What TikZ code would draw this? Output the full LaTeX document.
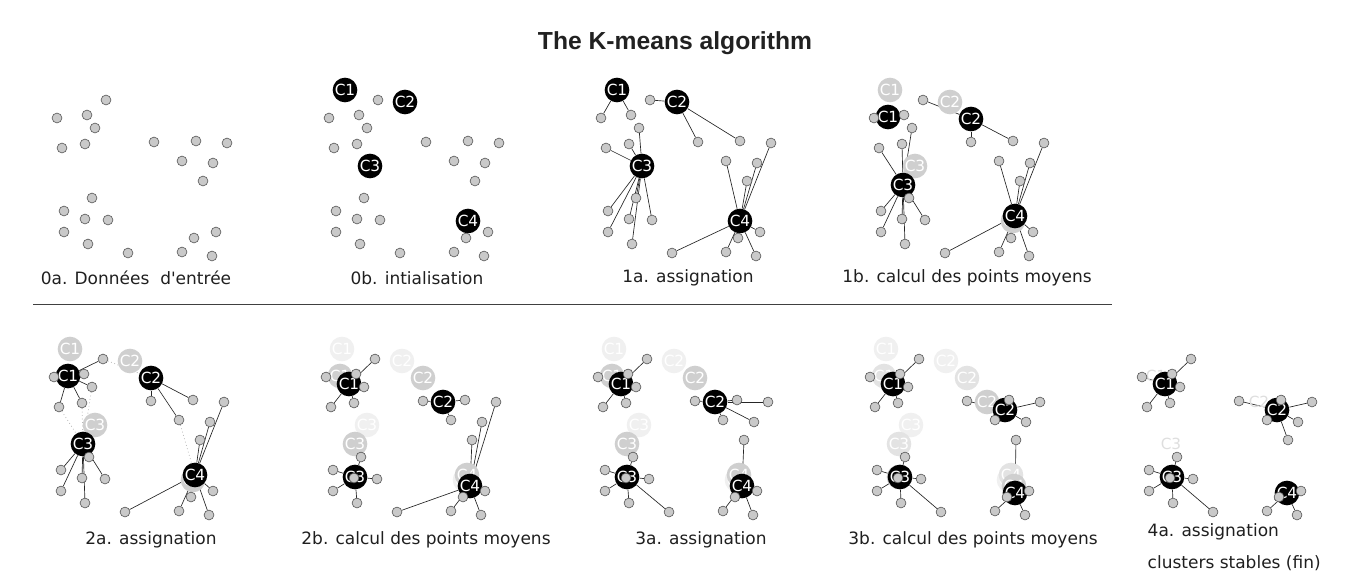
\documentclass[tikz,border=0pt]{standalone}
\usepackage{fontspec}
\newfontfamily\dejavu{DejaVu Sans}
\newfontfamily\titlefont{Liberation Sans}
\usetikzlibrary{positioning}
\pgfdeclarelayer{background}
\pgfsetlayers{background,main}

% data points (pixel units, panel 0a)
\def\pointlist{P1/106/100,P2/57/118,P3/87/115,P4/95/128,P5/62/148,P6/85/144,%
Q1/154/142,Q2/196/141,Q3/227/143,Q4/182/161,Q5/213/163,Q6/203/181,%
R1/92/198,R2/64/211,R3/85/219,R4/108/220,R5/64/232,R6/88/244,R7/128/253,%
S1/182/252,S2/194/238,S3/216/232,S4/212/256}
% centre positions after each update
\def\posO{C1/73/90,C2/133/102,C3/98/166,C4/196/221}
\def\posI{C1/71/117,C2/154/119,C3/86/185,C4/198/216}
\def\posII{C1/80/125,C2/174/143,C3/86/218,C4/201/227}
\def\posIII{C1/80/125,C2/192/151,C3/87/218,C4/202/234}
% assignments
\def\assignI{P1/C2,P2/C1,P3/C1,P4/C3,P5/C3,P6/C3,Q1/C2,Q2/C2,Q3/C4,Q4/C4,Q5/C4,Q6/C4,%
R1/C3,R2/C3,R3/C3,R4/C3,R5/C3,R6/C3,R7/C4,S1/C4,S2/C4,S3/C4,S4/C4}
\def\assignII{P1/C1,P2/C1,P3/C1,P4/C1,P5/C1,P6/C1,Q1/C2,Q2/C2,Q3/C4,Q4/C2,Q5/C4,Q6/C4,%
R1/C3,R2/C3,R3/C3,R4/C3,R5/C3,R6/C3,R7/C4,S1/C4,S2/C4,S3/C4,S4/C4}
\def\movedII{P1/C2,P4/C3,P5/C3,P6/C3,Q4/C4}
\def\assignIII{P1/C1,P2/C1,P3/C1,P4/C1,P5/C1,P6/C1,Q1/C2,Q2/C2,Q3/C2,Q4/C2,Q5/C2,Q6/C4,%
R1/C3,R2/C3,R3/C3,R4/C3,R5/C3,R6/C3,R7/C3,S1/C4,S2/C4,S3/C4,S4/C4}
\def\assignIV{P1/C1,P2/C1,P3/C1,P4/C1,P5/C1,P6/C1,Q1/C2,Q2/C2,Q3/C2,Q4/C2,Q5/C2,Q6/C2,%
R1/C3,R2/C3,R3/C3,R4/C3,R5/C3,R6/C3,R7/C3,S1/C4,S2/C4,S3/C4,S4/C4}

\begin{document}
\begin{tikzpicture}[x=0.75pt, y=-0.75pt]
        \tikzset{
            pt/.style={draw=black!68, fill=black!21, circle, inner sep=0pt, minimum size=7.4pt, line width=0.45pt},
            ctr/.style={fill=black, circle, inner sep=0pt, minimum size=18.5pt, text=white, font=\dejavu\fontsize{11.5}{13}\selectfont},
            ghostA/.style={ctr, fill=black!19},
            ghostB/.style={ctr, fill=black!11},
            ghostC/.style={ctr, fill=black!6},
            ghostT/.style={circle, inner sep=0pt, minimum size=18.5pt, text=black!13, font=\dejavu\fontsize{11.5}{13}\selectfont},
            link/.style={draw=black!85, line width=0.5pt},
            oldlink/.style={draw=black!28, dotted, line width=0.6pt},
            caption/.style={text=black!88, font=\dejavu\fontsize{12.75}{15}\selectfont}
        }
        \useasboundingbox (0,0) rectangle (1349,579);

        % Title and separator
        \node [font=\titlefont\bfseries\fontsize{18.5}{21}\selectfont, text=black!87] (title) at (675,43) {The K-means algorithm};
        \coordinate (ruleL) at (33,304);
        \coordinate (ruleR) at (1112,304);
        \draw [black!75, line width=0.6pt] (ruleL) -- (ruleR);

        % 0a. input data
        \begin{scope}
            \foreach \n/\x/\y in \pointlist \node [pt] (0a-\n) at (\x,\y) {};
        \end{scope}
        \node [caption] (cap0a) at (136,278) {0a. Données\ \ d'entrée};

        % 0b. initialisation
        \begin{scope}[shift={(272,0)}]
            \foreach \n/\x/\y in \posO \node [ctr] (0b-\n) at (\x,\y) {\n};
            \foreach \n/\x/\y in \pointlist \node [pt] (0b-\n) at (\x,\y) {};
        \end{scope}
        \node [caption] (cap0b) at (417,278) {0b. intialisation};

        % 1a. assignment
        \begin{scope}[shift={(544,0)}]
            \foreach \n/\x/\y in \posO \node [ctr] (1a-\n) at (\x,\y) {\n};
            \foreach \n/\x/\y in \pointlist \node [pt] (1a-\n) at (\x,\y) {};
        \end{scope}
        \begin{pgfonlayer}{background}
            \foreach \p/\c in \assignI \draw [link] (1a-\p) -- (1a-\c);
        \end{pgfonlayer}
        \node [caption] (cap1a) at (688,278) {1a. assignation};

        % 1b. means
        \begin{scope}[shift={(817,0)}]
            \foreach \n/\x/\y in \posO \node [ghostA] (1b-g0-\n) at (\x,\y) {\n};
            \foreach \n/\x/\y in \posI \node [ctr] (1b-\n) at (\x,\y) {\n};
            \foreach \n/\x/\y in \pointlist \node [pt] (1b-\n) at (\x,\y) {};
        \end{scope}
        \begin{pgfonlayer}{background}
            \foreach \p/\c in \assignI \draw [link] (1b-\p) -- (1b-\c);
        \end{pgfonlayer}
        \node [caption] (cap1b) at (967,278) {1b. calcul des points moyens};

        % 2a. assignment
        \begin{scope}[shift={(-3,259)}]
            \foreach \n/\x/\y in \posO \node [ghostA] (2a-g0-\n) at (\x,\y) {\n};
            \foreach \n/\x/\y in \posI \node [ctr] (2a-\n) at (\x,\y) {\n};
            \foreach \n/\x/\y in \pointlist \node [pt] (2a-\n) at (\x,\y) {};
        \end{scope}
        \begin{pgfonlayer}{background}
            \foreach \p/\c in \movedII \draw [oldlink] (2a-\p) -- (2a-\c);
            \foreach \p/\c in \assignII \draw [link] (2a-\p) -- (2a-\c);
        \end{pgfonlayer}
        \node [caption] (cap2a) at (151,540) {2a. assignation};

        % 2b. means
        \begin{scope}[shift={(269,259)}]
            \foreach \n/\x/\y in \posO \node [ghostC] (2b-g0-\n) at (\x,\y) {\n};
            \foreach \n/\x/\y in \posI \node [ghostA] (2b-g1-\n) at (\x,\y) {\n};
            \foreach \n/\x/\y in \posII \node [ctr] (2b-\n) at (\x,\y) {\n};
            \foreach \n/\x/\y in \pointlist \node [pt] (2b-\n) at (\x,\y) {};
        \end{scope}
        \begin{pgfonlayer}{background}
            \foreach \p/\c in \assignII \draw [link] (2b-\p) -- (2b-\c);
        \end{pgfonlayer}
        \node [caption] (cap2b) at (426,540) {2b. calcul des points moyens};

        % 3a. assignment
        \begin{scope}[shift={(541,259)}]
            \foreach \n/\x/\y in \posO \node [ghostC] (3a-g0-\n) at (\x,\y) {\n};
            \foreach \n/\x/\y in \posI \node [ghostA] (3a-g1-\n) at (\x,\y) {\n};
            \foreach \n/\x/\y in \posII \node [ctr] (3a-\n) at (\x,\y) {\n};
            \foreach \n/\x/\y in \pointlist \node [pt] (3a-\n) at (\x,\y) {};
        \end{scope}
        \begin{pgfonlayer}{background}
            \foreach \p/\c in \assignIII \draw [link] (3a-\p) -- (3a-\c);
        \end{pgfonlayer}
        \node [caption] (cap3a) at (701,540) {3a. assignation};

        % 3b. means
        \begin{scope}[shift={(813,259)}]
            \foreach \n/\x/\y in \posO \node [ghostC] (3b-g0-\n) at (\x,\y) {\n};
            \foreach \n/\x/\y in \posI \node [ghostB] (3b-g1-\n) at (\x,\y) {\n};
            \foreach \n/\x/\y in \posII \node [ghostA] (3b-g2-\n) at (\x,\y) {\n};
            \foreach \n/\x/\y in \posIII \node [ctr] (3b-\n) at (\x,\y) {\n};
            \foreach \n/\x/\y in \pointlist \node [pt] (3b-\n) at (\x,\y) {};
        \end{scope}
        \begin{pgfonlayer}{background}
            \foreach \p/\c in \assignIII \draw [link] (3b-\p) -- (3b-\c);
        \end{pgfonlayer}
        \node [caption] (cap3b) at (973,540) {3b. calcul des points moyens};

        % 4a. final assignment
        \begin{scope}[shift={(1085,259)}]
            \node [ghostT] (4a-g-C1) at (71,117) {C1};
            \node [ghostT] (4a-g-C2) at (174,143) {C2};
            \node [ghostT] (4a-g-C3) at (86,185) {C3};
            \foreach \n/\x/\y in \posIII \node [ctr] (4a-\n) at (\x,\y) {\n};
            \foreach \n/\x/\y in \pointlist \node [pt] (4a-\n) at (\x,\y) {};
        \end{scope}
        \begin{pgfonlayer}{background}
            \foreach \p/\c in \assignIV \draw [link] (4a-\p) -- (4a-\c);
        \end{pgfonlayer}
        \node [caption, anchor=west] (cap4a) at (1143,532) {4a. assignation};
        \node [caption, anchor=west] (cap4b) at (1143,563) {clusters stables (fin)};
    \end{tikzpicture}
\end{document}
